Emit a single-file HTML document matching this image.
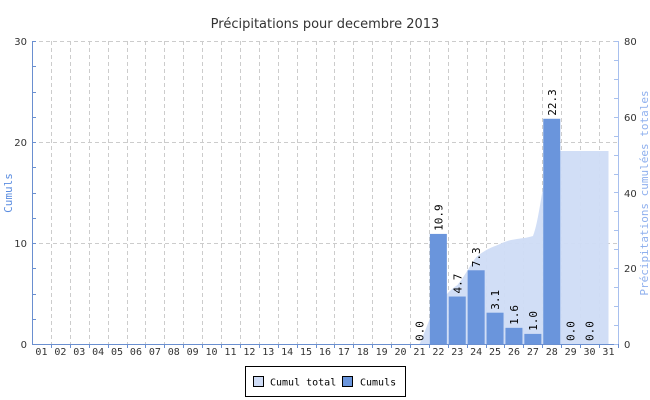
<!DOCTYPE html>
<html><head><style>body{margin:0;background:#fff}svg{display:block}</style></head><body>
<svg width="650" height="400" xmlns="http://www.w3.org/2000/svg" font-family="DejaVu Sans Mono, Liberation Mono, monospace">
<text x="325" y="28" text-anchor="middle" font-family="DejaVu Sans, Liberation Sans, sans-serif" font-size="13" fill="#333">Précipitations pour decembre 2013</text>
<g stroke="#ccc" stroke-dasharray="4,3" stroke-width="1">
<line x1="32" y1="41.5" x2="618" y2="41.5"/><line x1="32" y1="142.5" x2="618" y2="142.5"/><line x1="32" y1="243.5" x2="618" y2="243.5"/>
<g id="vg"></g>
</g>
<path d="M419.6,344 C428,325 432,310 438.5,303 C446,295 450,290 457.4,285 C465,276 470,265 476.3,257 C485,250 490,248 495.2,246 C502,243 508,240 514.1,239.5 C522,238 527,238 533,236 C540,220 545,160 551.9,151 L608.5,151 L608.5,344 Z" fill="#cfdcf6" opacity="0.95"/>
<g fill="#6a95dc" id="bars"></g>
<g font-size="11" fill="#000" id="vals"></g>
<line x1="32.5" y1="41" x2="32.5" y2="344" stroke="#6a8fd0"/>
<line x1="618.5" y1="41" x2="618.5" y2="344" stroke="#a8c0ee"/>
<line x1="32" y1="344.5" x2="618" y2="344.5" stroke="#6a8fd0"/>
<g id="ticks" stroke="#6a8fd0"></g>
<g font-size="10" fill="#333" font-family="DejaVu Sans, Liberation Sans, sans-serif">
<text x="27" y="45" text-anchor="end">30</text><text x="27" y="146" text-anchor="end">20</text><text x="27" y="247" text-anchor="end">10</text><text x="27" y="348" text-anchor="end">0</text>
<text x="624" y="45">80</text><text x="624" y="121">60</text><text x="624" y="197">40</text><text x="624" y="272">20</text><text x="624" y="348">0</text>
</g>
<g font-size="10" fill="#333" id="xl" text-anchor="middle"></g>
<text transform="translate(12,193) rotate(-90)" text-anchor="middle" font-size="11" fill="#5b8de0">Cumuls</text>
<text transform="translate(648,193) rotate(-90)" text-anchor="middle" font-size="11" fill="#8fb0ee">Précipitations cumulées totales</text>
<rect x="245.5" y="366.5" width="160" height="30" fill="#fff" stroke="#000"/>
<rect x="253.5" y="376.5" width="10" height="10" fill="#cfdcf6" stroke="#000"/>
<text x="270" y="385.5" font-size="10">Cumul total</text>
<rect x="342.5" y="376.5" width="10" height="10" fill="#6a95dc" stroke="#000"/>
<text x="360" y="385.5" font-size="10">Cumuls</text>
</svg>
<script>
var ns="http://www.w3.org/2000/svg",w=18.9,x0=32;
function el(p,t,a,txt){var e=document.createElementNS(ns,t);for(var k in a)e.setAttribute(k,a[k]);if(txt!=null)e.textContent=txt;document.getElementById(p).appendChild(e);}
for(var i=1;i<31;i++){var x=Math.round(x0+i*w)+0.5;el("vg","line",{x1:x,y1:41,x2:x,y2:344});}
for(var i=0;i<31;i++){var c=x0+w*(i+0.5);el("xl","text",{x:c,y:355},(i<9?"0":"")+(i+1));
el("ticks","line",{x1:Math.round(x0+(i+1)*w)+0.5,y1:344,x2:Math.round(x0+(i+1)*w)+0.5,y2:348});}
var v={21:0,22:10.9,23:4.7,24:7.3,25:3.1,26:1.6,27:1.0,28:22.3,29:0,30:0};
for(var d in v){var c=x0+w*(d-0.5),h=v[d]*10.1;
if(h>0)el("bars","rect",{x:c-8.5,y:344-h,width:17,height:h});
el("vals","text",{transform:"translate("+(c+4)+","+(341-h)+") rotate(-90)"},v[d].toFixed(1));}
for(var k=0;k<=12;k++){var y=Math.round(344-k*25.25)+0.5;el("ticks","line",{x1:32,y1:y,x2:36,y2:y});}
for(var k=0;k<=16;k++){var y=Math.round(344-k*18.94)+0.5;el("ticks","line",{x1:614,y1:y,x2:618,y2:y,stroke:"#a8c0ee"});}
</script>
</body></html>
